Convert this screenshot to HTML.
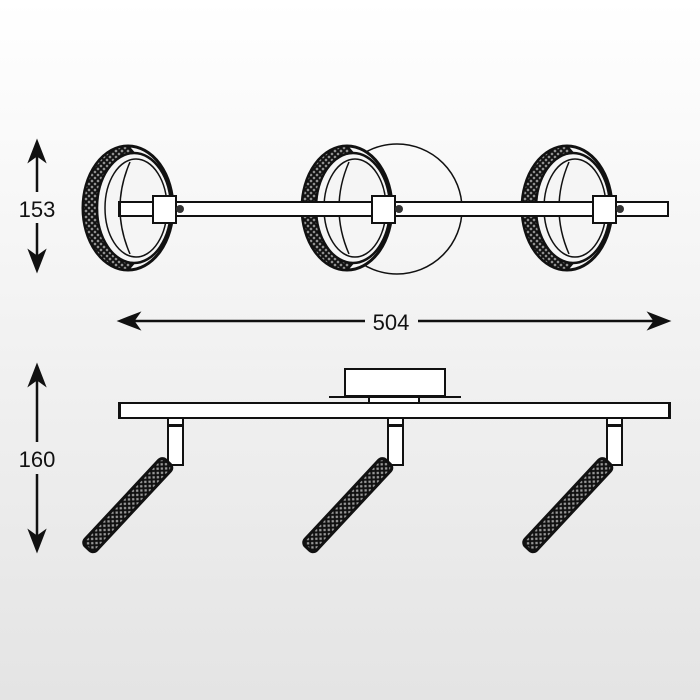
<!DOCTYPE html>
<html><head><style>
html,body{margin:0;padding:0}
body{width:700px;height:700px;background:linear-gradient(#ffffff 0%,#f4f4f4 40%,#e4e4e4 100%);overflow:hidden}
svg{display:block}
text{font-family:"Liberation Sans",sans-serif;font-size:22px;fill:#111}
</style></head><body>
<svg width="700" height="700" viewBox="0 0 700 700">
<defs>
<pattern id="xh" width="6" height="6" patternUnits="userSpaceOnUse">
<rect width="6" height="6" fill="#999"/>
<path d="M0 0L6 6M6 0L0 6" stroke="#111" stroke-width="2"/>
</pattern>
<g id="ring">
<ellipse cx="0" cy="0" rx="45" ry="62" fill="#f5f5f5" stroke="#111" stroke-width="3"/>
<path d="M0 -62 A45 62 0 0 0 0 62 L6 55 A37 55 0 0 1 6 -55Z" fill="url(#xh)" stroke="#111" stroke-width="2"/>
<ellipse cx="6" cy="0" rx="37" ry="55" fill="none" stroke="#111" stroke-width="2.5"/>
<ellipse cx="8" cy="0" rx="31" ry="49" fill="none" stroke="#111" stroke-width="1.5"/>
<path d="M2 -46 Q-18 0 2 46" fill="none" stroke="#111" stroke-width="1.5"/>
</g>
<g id="spot">
<rect x="0" y="-8" width="118" height="16" rx="5" fill="url(#xh)" stroke="#111" stroke-width="3"/>
</g>
</defs>

<!-- top view -->
<circle cx="397" cy="209" r="65" fill="none" stroke="#111" stroke-width="1.5"/>
<use href="#ring" x="128" y="208"/>
<use href="#ring" x="347" y="208"/>
<use href="#ring" x="567" y="208"/>
<rect x="119" y="202" width="549" height="14" fill="#fff" stroke="#111" stroke-width="2"/>
<rect x="118" y="202" width="3" height="14" fill="#111"/>
<g fill="#fff" stroke="#111" stroke-width="2">
<rect x="153" y="196" width="23" height="27"/>
<rect x="372" y="196" width="23" height="27"/>
<rect x="593" y="196" width="23" height="27"/>
</g>
<g fill="#333">
<circle cx="180" cy="209" r="4"/><circle cx="399" cy="209" r="4"/><circle cx="620" cy="209" r="4"/>
</g>

<!-- dimensions -->
<g stroke="#111" stroke-width="2.5" fill="#111">
<line x1="37" y1="150" x2="37" y2="192"/><line x1="37" y1="223" x2="37" y2="262"/>
<path d="M37 142 L30 160 L37 155 L44 160Z"/><path d="M37 270 L30 252 L37 257 L44 252Z"/>
<line x1="37" y1="374" x2="37" y2="442"/><line x1="37" y1="474" x2="37" y2="542"/>
<path d="M37 366 L30 384 L37 379 L44 384Z"/><path d="M37 550 L30 532 L37 537 L44 532Z"/>
<line x1="128" y1="321" x2="365" y2="321"/><line x1="418" y1="321" x2="660" y2="321"/>
<path d="M120 321 L138 314 L133 321 L138 328Z"/><path d="M668 321 L650 314 L655 321 L650 328Z"/>
</g>
<text x="37" y="217" text-anchor="middle">153</text>
<text x="37" y="467" text-anchor="middle">160</text>
<text x="391" y="330" text-anchor="middle">504</text>

<!-- side view -->
<g fill="#fff" stroke="#111" stroke-width="2">
<rect x="345" y="369" width="100" height="27"/>
<line x1="329" y1="397" x2="461" y2="397"/>
<rect x="369" y="397" width="50" height="6"/>
<rect x="119" y="403" width="551" height="15"/>
</g>
<rect x="118" y="403" width="3" height="15" fill="#111"/>
<rect x="668" y="403" width="3" height="15" fill="#111"/>
<g fill="#fff" stroke="#111" stroke-width="2">
<rect x="168" y="418" width="15" height="47"/>
<rect x="388" y="418" width="15" height="47"/>
<rect x="607" y="418" width="15" height="47"/>
</g>
<g fill="#111">
<rect x="168" y="424" width="15" height="3"/><rect x="388" y="424" width="15" height="3"/><rect x="607" y="424" width="15" height="3"/>
</g>
<use href="#spot" transform="translate(168,462) rotate(133)"/>
<use href="#spot" transform="translate(388,462) rotate(133)"/>
<use href="#spot" transform="translate(608,462) rotate(133)"/>
</svg>
</body></html>
